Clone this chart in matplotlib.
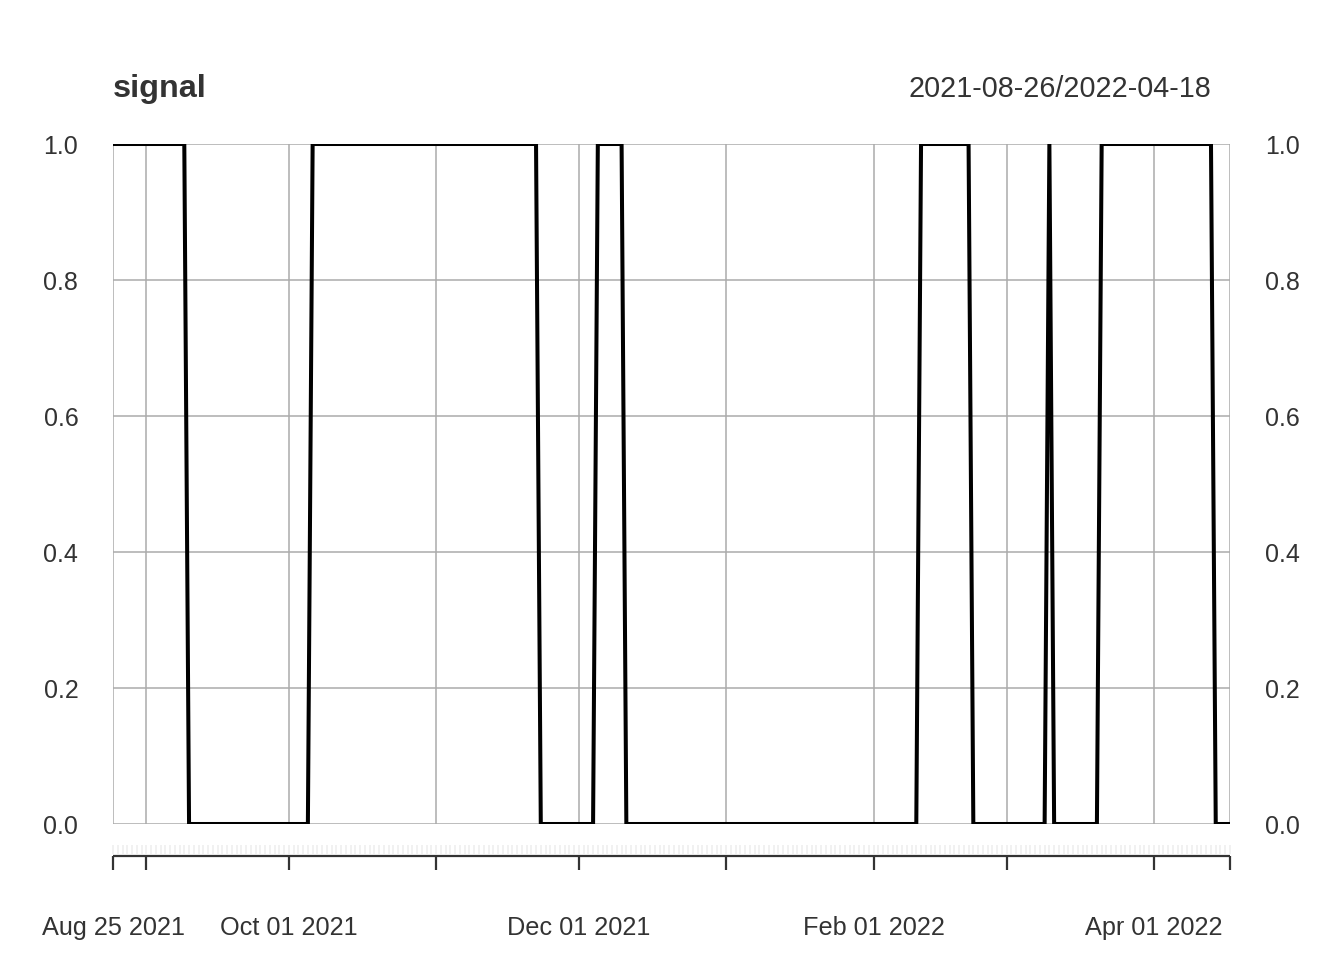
#!/usr/bin/env python3
"""Recreate the xts-style 'signal' step chart as out.png."""

import matplotlib
matplotlib.use("Agg")
import matplotlib.pyplot as plt
import matplotlib.dates as mdates
import matplotlib.transforms as mtransforms
import numpy as np
import pandas as pd

# Data: the signal switches between 1 and 0 on these dates (daily series)
START_DATE = "2021-08-25"
END_DATE = "2022-04-17"
CHANGE_DATES = ["2021-08-25", "2021-09-10", "2021-10-06", "2021-11-23",
                "2021-12-05", "2021-12-11", "2022-02-11", "2022-02-22",
                "2022-03-10", "2022-03-11", "2022-03-21", "2022-04-14"]
CHANGE_VALUES = [1, 0, 1, 0, 1, 0, 1, 0, 1, 0, 1, 0]

GRID_DATES = ["2021-08-25", "2021-09-01", "2021-10-01", "2021-11-01",
              "2021-12-01", "2022-01-01", "2022-02-01", "2022-03-01",
              "2022-04-01", "2022-04-17"]
LABEL_DATES = ["2021-08-25", "2021-10-01", "2021-12-01", "2022-02-01", "2022-04-01"]
Y_TICKS = [0.0, 0.2, 0.4, 0.6, 0.8, 1.0]

TITLE = "signal"
RANGE_TEXT = "2021-08-26/2022-04-18"

TEXT_COLOR = "#333333"
GRID_COLOR = "#ababab"
FONT = ["Liberation Sans", "DejaVu Sans"]

plt.rcParams['font.family'] = FONT

# build the daily series from the change points
days = pd.date_range(START_DATE, END_DATE, freq="D")
signal = pd.Series(CHANGE_VALUES, index=pd.to_datetime(CHANGE_DATES)).reindex(days).ffill()

W, H = 1344, 960
fig = plt.figure(figsize=(W / 100, H / 100), dpi=100)
left, right, top, bottom = 113, 1230, 144, 824
ax = fig.add_axes([left / W, 1 - bottom / H, (right - left) / W, (bottom - top) / H])

x = mdates.date2num(signal.index.to_pydatetime())
ax.set_xlim(x[0], x[-1])
ax.set_ylim(0, 1)

# grid
for y in Y_TICKS:
    ax.axhline(y, color=GRID_COLOR, lw=1.1, zorder=1)
grid_x = mdates.date2num(pd.to_datetime(GRID_DATES).to_pydatetime())
for gx in grid_x:
    ax.axvline(gx, color=GRID_COLOR, lw=1.1, zorder=1)

ax.plot(x, signal.values, color="black", lw=2.9, zorder=3, clip_on=True,
        solid_joinstyle="miter")

for s in ax.spines.values():
    s.set_visible(False)
ax.set_xticks([])
ax.set_yticks(Y_TICKS)
ax.set_yticklabels([f"{v:.1f}" for v in Y_TICKS])
ax.tick_params(axis="y", length=0, pad=25, labelsize=18, labelcolor=TEXT_COLOR,
               left=False, right=False, labelleft=True, labelright=True)

# x axis drawn below the panel, xts style
trans = mtransforms.blended_transform_factory(ax.transData, ax.transAxes)
ph = bottom - top
minor_lo, minor_hi = -(845 - bottom) / ph, -(854 - bottom) / ph
ax.vlines(x, minor_hi, minor_lo, color="#efefef", lw=1.2, transform=trans, clip_on=False)
axis_y = -(856 - bottom) / ph
tick_y = -(870 - bottom) / ph
ax.plot([x[0], x[-1]], [axis_y, axis_y], color=TEXT_COLOR, lw=1.6, transform=trans,
        clip_on=False, solid_capstyle="butt")
ax.vlines(grid_x, tick_y, axis_y, color=TEXT_COLOR, lw=1.6, transform=trans, clip_on=False)

label_y = -(928 - bottom) / ph
for d in pd.to_datetime(LABEL_DATES):
    ax.text(mdates.date2num(d.to_pydatetime()), label_y, d.strftime("%b %d %Y"),
            transform=trans, ha="center", va="center", fontsize=18.2, color=TEXT_COLOR)

fig.text(left / W, 1 - 97 / H, TITLE, ha="left", va="baseline",
         fontsize=23.3, fontweight="bold", color=TEXT_COLOR)
fig.text(1211 / W, 1 - 97 / H, RANGE_TEXT, ha="right", va="baseline",
         fontsize=20.7, color=TEXT_COLOR)

fig.savefig("out.png", dpi=100, facecolor="white")
